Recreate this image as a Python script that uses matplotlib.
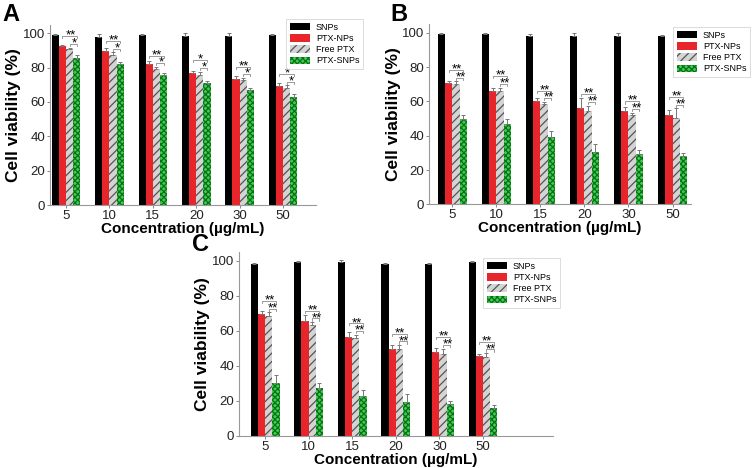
import numpy as np
import matplotlib
matplotlib.use('Agg')
from matplotlib import pyplot as plt

plt.rcParams['font.family'] = ['Liberation Sans', 'DejaVu Sans']
plt.rcParams['hatch.linewidth'] = 0.9

conc = ['5', '10', '15', '20', '30', '50']
series = ['SNPs', 'PTX-NPs', 'Free PTX', 'PTX-SNPs']

# panel A
a_snp = [99, 98, 99, 98.4, 98.4, 98.8]
a_snp_err = [0.5, 1.5, 0.5, 2, 2, 0.5]
a_np = [92.4, 89.9, 81.9, 76.7, 73.6, 69.3]
a_np_err = [1, 1.5, 2, 1.5, 1.5, 1.5]
a_free = [90.7, 87.6, 79, 75.7, 72.6, 68.3]
a_free_err = [1, 1.5, 1.5, 2, 1.5, 1.5]
a_psnp = [85.8, 81.9, 75.7, 70.9, 66.8, 62.9]
a_psnp_err = [1.5, 1.5, 1, 1.5, 1.5, 2]
a_star1 = ['**', '**', '**', '*', '**', '*']
a_star2 = ['*', '*', '*', '*', '*', '*']

# panel B
b_snp = [99.2, 99.2, 98, 98, 98.2, 98.2]
b_snp_err = [0.7, 0.7, 1.5, 2, 1.5, 0.3]
b_np = [71, 66.1, 60, 56.4, 54.5, 52]
b_np_err = [0.7, 1.5, 2, 5.5, 2.5, 3]
b_free = [70.4, 66.1, 58.8, 54.5, 52, 50.6]
b_free_err = [1.5, 2, 1, 3, 1.5, 5.5]
b_psnp = [50, 47, 39.3, 30.5, 29.6, 28]
b_psnp_err = [2, 2.5, 3.5, 4.5, 2, 2]
b_star1 = ['**'] * 6
b_star2 = ['**'] * 6

# panel C
c_snp = [98.1, 99.2, 99.2, 98.3, 98.3, 99.2]
c_snp_err = [0.7, 0.5, 1.3, 0.3, 0.3, 0.5]
c_np = [69.5, 65.3, 56.7, 49.6, 48.1, 45.4]
c_np_err = [1.5, 3.5, 2.5, 2, 2, 1.5]
c_free = [68.5, 63, 55.7, 49.4, 46.8, 44.8]
c_free_err = [2, 2, 2, 2.5, 3, 2.5]
c_psnp = [30.3, 27.1, 22.7, 19.5, 18.1, 15.6]
c_psnp_err = [4.5, 3, 3.5, 4.5, 1.5, 2]
c_star1 = ['**'] * 6
c_star2 = ['**'] * 6

W, H = 753, 468
fig = plt.figure(figsize=(W / 100, H / 100), dpi=100)


def px_axes(left, top, right, bottom):
    return fig.add_axes([left / W, 1 - bottom / H, (right - left) / W, (bottom - top) / H])


def panel(ax, vals, errs, star1, star2, xlim, letter, letter_xy, leg_xy):
    x = np.arange(len(conc))
    w = 0.165
    styles = [dict(color='black'),
              dict(color='#e8252b'),
              dict(facecolor='#d4d4d4', edgecolor='#555555', hatch='////', linewidth=0),
              dict(facecolor='#3fcf4a', edgecolor='#0b6e1c', hatch='xxxxxx', linewidth=0)]
    for k in range(4):
        xs = x + (k - 1.5) * w
        ax.bar(xs, vals[k], w, label=series[k], **styles[k])
        ax.errorbar(xs, vals[k], yerr=[np.zeros(len(x)), errs[k]], fmt='none',
                    ecolor='#777777', elinewidth=0.7, capsize=1.5, capthick=0.7)
    # significance brackets
    for i in range(len(x)):
        xr = x[i] - 0.5 * w
        xg = x[i] + 0.5 * w
        xgr = x[i] + 1.5 * w
        top_r = vals[1][i] + errs[1][i]
        top_g = max(vals[2][i] + errs[2][i], vals[3][i] + errs[3][i])
        y2 = top_g + 2
        y1 = max(y2 + 4.5, top_r + 2.5)
        for (xa, xb, yy, s) in [(xr, xgr, y1, star1[i]), (xg, xgr, y2, star2[i])]:
            ax.plot([xa, xa, xb, xb], [yy - 1.2, yy, yy, yy - 1.2], color='#8a8a8a', lw=0.6)
            ax.text((xa + xb) / 2 + 0.02, yy - 3.2, s, ha='center', va='bottom', fontsize=9.5)
    ax.set_xlim(xlim)
    ax.set_ylim(0, 105)
    ax.set_xticks(x)
    ax.set_xticklabels(conc)
    ax.set_yticks([0, 20, 40, 60, 80, 100])
    ax.tick_params(labelsize=9.5, colors='#888888', labelcolor='#222222', length=2, width=0.7, pad=1.5)
    for s in ['top', 'right']:
        ax.spines[s].set_visible(False)
    for s in ['left', 'bottom']:
        ax.spines[s].set_color('#999999')
        ax.spines[s].set_linewidth(0.8)
    ax.set_ylabel('Cell viability (%)', fontsize=12.5, fontweight='bold', labelpad=1)
    ax.set_xlabel('Concentration (\u00b5g/mL)', fontsize=11, fontweight='bold', labelpad=0)
    leg = ax.legend(loc='upper left', bbox_to_anchor=(leg_xy[0] / W, 1 - leg_xy[1] / H),
                    bbox_transform=fig.transFigure, fontsize=6.5, frameon=True, fancybox=False,
                    handlelength=2.3, handleheight=0.9, labelspacing=0.25, borderpad=0.4,
                    handletextpad=0.6, borderaxespad=0)
    leg.get_frame().set_edgecolor('#cccccc')
    leg.get_frame().set_linewidth(0.6)
    fig.text(letter_xy[0] / W, 1 - letter_xy[1] / H, letter, fontsize=17, fontweight='bold',
             ha='left', va='top')


ax_a = px_axes(50, 24.7, 316, 205)
panel(ax_a, [a_snp, a_np, a_free, a_psnp], [a_snp_err, a_np_err, a_free_err, a_psnp_err],
      a_star1, a_star2, (-0.37, 5.76), 'A', (2, 3), (286, 19))

ax_b = px_axes(429, 24.3, 691, 204.3)
panel(ax_b, [b_snp, b_np, b_free, b_psnp], [b_snp_err, b_np_err, b_free_err, b_psnp_err],
      b_star1, b_star2, (-0.53, 5.42), 'B', (390, 3), (673, 27))

ax_c = px_axes(239, 252, 553, 435.7)
panel(ax_c, [c_snp, c_np, c_free, c_psnp], [c_snp_err, c_np_err, c_free_err, c_psnp_err],
      c_star1, c_star2, (-0.6, 6.61), 'C', (192, 233), (483, 258))

fig.savefig('out.png', dpi=100)
